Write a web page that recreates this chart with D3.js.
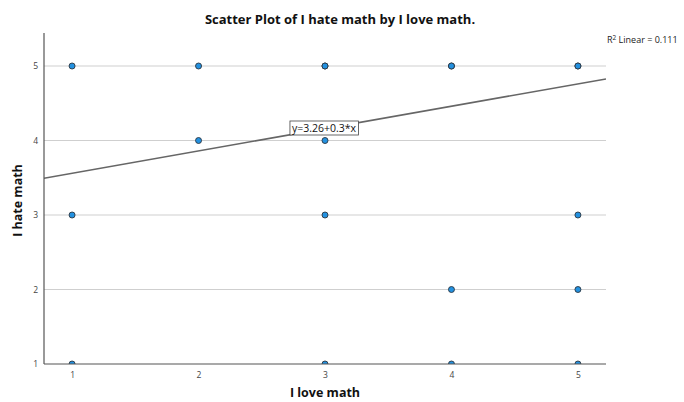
<!DOCTYPE html>
<html>
<head>
<meta charset="utf-8">
<script src="https://cdn.jsdelivr.net/npm/d3@7"></script>
<style>
  html, body { margin: 0; padding: 0; background: #fff; }
  svg { display: block; }
  text { font-family: "Open Sans", "DejaVu Sans", sans-serif; }
</style>
</head>
<body>
<svg id="chart" width="684" height="402"></svg>
<script>
const loveMath = [1, 2, 3, 3, 4, 4, 5, 5, 2, 3, 1, 3, 5, 4, 5, 1, 3, 4, 5];
const hateMath = [5, 5, 5, 5, 5, 5, 5, 5, 4, 4, 3, 3, 3, 2, 2, 1, 1, 1, 1];
const xTicks = [1, 2, 3, 4, 5];
const yTicks = [1, 2, 3, 4, 5];
const intercept = 3.26;
const slope = 0.3;
const r2Label = "0.111";
const titleText = "Scatter Plot of I hate math by I love math.";
const xLabel = "I love math";
const yLabel = "I hate math";
const eqLabel = "y=3.26+0.3*x";

const svg = d3.select("#chart");
const pL = 44, pR = 606, pT = 33, pB = 364;

const x = d3.scaleLinear().domain([0.778, 5.222]).range([pL, pR]);
const y = d3.scaleLinear().domain([1, 5.443]).range([pB, pT]);

svg.append("defs").append("clipPath").attr("id", "clip")
  .append("rect").attr("x", pL).attr("y", pT).attr("width", pR - pL).attr("height", pB - pT);

// gridlines
svg.append("g").selectAll("line").data(yTicks.filter(d => d !== 1)).join("line")
  .attr("x1", pL).attr("x2", pR)
  .attr("y1", d => y(d)).attr("y2", d => y(d))
  .attr("stroke", "#cfcfcf").attr("stroke-width", 1);

// regression line
const xd = x.domain();
svg.append("line")
  .attr("clip-path", "url(#clip)")
  .attr("x1", x(xd[0])).attr("y1", y(intercept + slope * xd[0]))
  .attr("x2", x(xd[1])).attr("y2", y(intercept + slope * xd[1]))
  .attr("stroke", "#666").attr("stroke-width", 1.6);

// points
svg.append("g").attr("clip-path", "url(#clip)")
  .selectAll("circle").data(loveMath.map((d, i) => [d, hateMath[i]])).join("circle")
  .attr("cx", d => x(d[0])).attr("cy", d => y(d[1])).attr("r", 3)
  .attr("fill", "#2391e0").attr("stroke", "#2b3540").attr("stroke-width", 0.9);

// axes
const xAxis = svg.append("g").attr("transform", `translate(0,${pB})`)
  .call(d3.axisBottom(x).tickValues(xTicks).tickSize(0).tickPadding(8).tickFormat(d3.format("d")));
xAxis.select(".domain").attr("d", `M${pL},0H${pR}`).attr("stroke", "#555").attr("stroke-width", 1.2);
const yAxis = svg.append("g").attr("transform", `translate(${pL},0)`)
  .call(d3.axisLeft(y).tickValues(yTicks).tickSize(0).tickPadding(6).tickFormat(d3.format("d")));
yAxis.select(".domain").attr("d", `M0,${pT}V${pB}`).attr("stroke", "#555").attr("stroke-width", 1.2);
svg.selectAll(".tick text").attr("font-size", 8.5).attr("fill", "#444")
  .style("font-family", "'Open Sans', 'DejaVu Sans', sans-serif");

// equation label
const lx = 3.0;
const eqG = svg.append("g");
const eqT = eqG.append("text").attr("x", x(lx) - 1).attr("y", 132)
  .attr("text-anchor", "middle").attr("font-size", 10.5).attr("fill", "#111").text(eqLabel);
const bb = eqT.node().getBBox();
eqG.insert("rect", "text").attr("x", bb.x - 2).attr("y", bb.y)
  .attr("width", bb.width + 4).attr("height", bb.height)
  .attr("fill", "#fff").attr("stroke", "#444").attr("stroke-width", 0.8);

// R2 label
const r2 = svg.append("text").attr("x", 607).attr("y", 43).attr("font-size", 9).attr("fill", "#222");
r2.append("tspan").text("R");
r2.append("tspan").attr("font-size", 6.5).attr("dy", -3.5).text("2");
r2.append("tspan").attr("dy", 3.5).text(" Linear = " + r2Label);

// title
svg.append("text").attr("x", 340).attr("y", 24).attr("text-anchor", "middle")
  .attr("font-size", 13).attr("font-weight", "bold").attr("fill", "#111").text(titleText);

// axis titles
svg.append("text").attr("x", 325).attr("y", 397).attr("text-anchor", "middle")
  .attr("font-size", 12.5).attr("font-weight", "bold").attr("fill", "#111").text(xLabel);
svg.append("text").attr("transform", `translate(22,${(pT + pB) / 2 + 2}) rotate(-90)`)
  .attr("text-anchor", "middle")
  .attr("font-size", 12.5).attr("font-weight", "bold").attr("fill", "#111").text(yLabel);
</script>
</body>
</html>
